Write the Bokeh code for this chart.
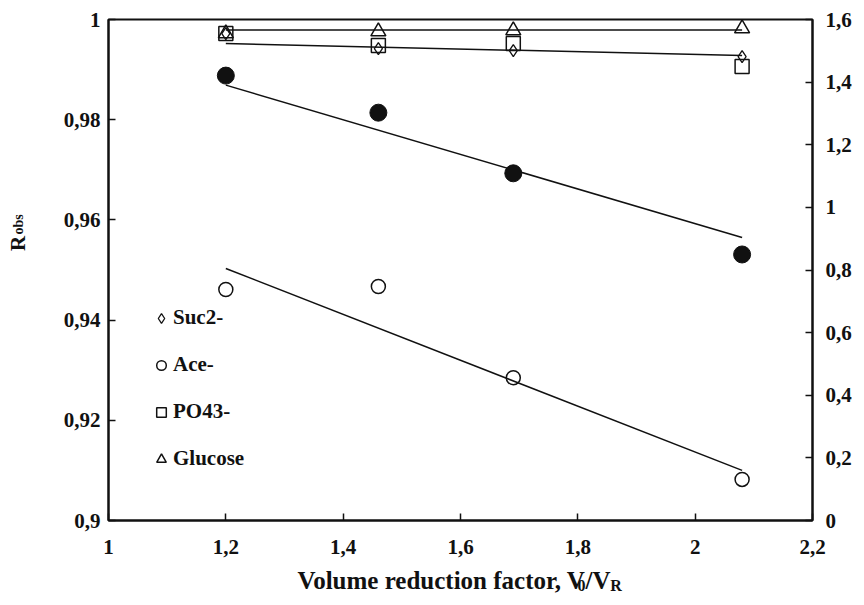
from bokeh.plotting import figure
from bokeh.models import (Range1d, LinearAxis, FixedTicker, CustomJSTickFormatter,
                          Legend, LegendItem)
from bokeh.embed import file_html
from bokeh.resources import INLINE

# ---------------- data ----------------
vrf = [1.2, 1.46, 1.69, 2.08]                      # volume reduction factor
suc = [0.9972, 0.9942, 0.9938, 0.9926]             # Suc2-  (diamond)
ace = [0.9461, 0.9467, 0.9285, 0.9082]             # Ace-   (open circle)
po4 = [0.9972, 0.9948, 0.9952, 0.9906]             # PO43-  (square)
glucose = [0.9972, 0.9976, 0.9978, 0.9982]         # Glucose (triangle)
filled = [0.9888, 0.9814, 0.9693, 0.9531]          # filled circles (no legend)

fit_x = [1.2, 2.08]
fit_glucose = [0.9979, 0.9979]
fit_suc_po4 = [0.9952, 0.9928]
fit_filled = [0.9869, 0.9565]
fit_ace = [0.9503, 0.9100]

x_ticks = [1.0, 1.2, 1.4, 1.6, 1.8, 2.0, 2.2]
y_ticks = [0.90, 0.92, 0.94, 0.96, 0.98, 1.00]
y2_ticks = [0.0, 0.2, 0.4, 0.6, 0.8, 1.0, 1.2, 1.4, 1.6]

legend_names = ["Suc2-", "Ace-", "PO43-", "Glucose"]

# axis titles, split into normal / subscript pieces
x_title_main = ["Volume  reduction factor, V", "/V"]
x_title_sub = ["0", "R"]
y_title_main = ["R"]
y_title_sub = ["obs"]

# placement of title pieces along their axes (layout constants)
X_MAIN_AT = [1.5727, 1.8344]
X_SUB_AT = [1.8062, 1.8651]
Y_MAIN_AT = [0.9553]
Y_SUB_AT = [0.9591]

FONT = "Liberation Serif"
INK = "#111111"

p = figure(width=856, height=602, output_backend="svg", toolbar_location=None,
           x_range=Range1d(1.0, 2.2), y_range=Range1d(0.9, 1.0),
           min_border_left=108, min_border_right=44, min_border_top=19,
           min_border_bottom=82, background_fill_color="white",
           border_fill_color="white")
p.extra_y_ranges = {"right": Range1d(0.0, 1.6)}
p.grid.visible = False
p.outline_line_color = INK
p.outline_line_width = 2

fmt = CustomJSTickFormatter(code="""
const v = Math.round(tick*1000)/1000;
return v.toString().replace('.', ',');
""")

def style_axis(ax, ticks, standoff):
    ax.ticker = FixedTicker(ticks=ticks)
    ax.formatter = fmt
    ax.major_tick_in = 7
    ax.major_tick_out = 0
    ax.minor_tick_in = 0
    ax.minor_tick_out = 0
    ax.major_tick_line_color = INK
    ax.major_tick_line_width = 1.5
    ax.axis_line_color = INK
    ax.axis_line_width = 2
    ax.major_label_text_font = FONT
    ax.major_label_text_font_style = "bold"
    ax.major_label_text_font_size = "21px"
    ax.major_label_text_color = INK
    ax.major_label_standoff = standoff

style_axis(p.xaxis[0], x_ticks, 19)
style_axis(p.yaxis[0], y_ticks, 8)
ax2 = LinearAxis(y_range_name="right")
style_axis(ax2, y2_ticks, 13)
p.add_layout(ax2, "right")

def title_axis(texts, at, size, standoff, side, vertical=False):
    ax = LinearAxis()
    ax.ticker = FixedTicker(ticks=at)
    ax.formatter = CustomJSTickFormatter(args=dict(labels=texts),
                                         code="return labels[index];")
    ax.axis_line_color = None
    ax.major_tick_line_color = None
    ax.minor_tick_line_color = None
    ax.major_tick_in = 0
    ax.major_tick_out = 0
    ax.minor_tick_in = 0
    ax.minor_tick_out = 0
    ax.major_label_text_font = FONT
    ax.major_label_text_font_style = "bold"
    ax.major_label_text_font_size = size
    ax.major_label_text_color = INK
    ax.major_label_standoff = standoff
    if vertical:
        ax.major_label_orientation = "vertical"
    p.add_layout(ax, side)
    return ax

title_axis(x_title_main, X_MAIN_AT, "25px", 10, "below")
title_axis(x_title_sub, X_SUB_AT, "16px", -20, "below")
title_axis(y_title_sub, Y_SUB_AT, "14px", 34, "left", vertical=True)
title_axis(y_title_main, Y_MAIN_AT, "21px", -22, "left", vertical=True)

# fit lines
p.line(fit_x, fit_glucose, line_color=INK, line_width=1.5)
p.line(fit_x, fit_suc_po4, line_color=INK, line_width=1.5)
p.line(fit_x, fit_filled, line_color=INK, line_width=1.5)
p.line(fit_x, fit_ace, line_color=INK, line_width=1.5)

# markers
r_filled = p.scatter(vrf, filled, marker="circle", size=17, fill_color=INK,
                     line_color=INK)
r_suc = p.scatter(vrf, suc, marker="diamond", size=12, fill_alpha=0,
                  line_color=INK, line_width=1.3)
r_ace = p.scatter(vrf, ace, marker="circle", size=14, fill_alpha=0,
                  line_color=INK, line_width=1.5)
r_po4 = p.scatter(vrf, po4, marker="square", size=14, fill_alpha=0,
                  line_color=INK, line_width=1.5)
r_glu = p.scatter(vrf, glucose, marker="triangle", size=15, fill_alpha=0,
                  line_color=INK, line_width=1.5)

legend = Legend(items=[LegendItem(label=legend_names[0], renderers=[r_suc]),
                       LegendItem(label=legend_names[1], renderers=[r_ace]),
                       LegendItem(label=legend_names[2], renderers=[r_po4]),
                       LegendItem(label=legend_names[3], renderers=[r_glu])],
                location=(41, 49), orientation="vertical",
                background_fill_alpha=0, border_line_alpha=0,
                padding=0, margin=0, spacing=22,
                glyph_width=24, glyph_height=24, label_height=24,
                label_standoff=0, label_text_font=FONT,
                label_text_font_style="bold",
                label_text_font_size="21px", label_text_color=INK)
p.add_layout(legend, "center")

open("out.html", "w").write(file_html(p, INLINE))
